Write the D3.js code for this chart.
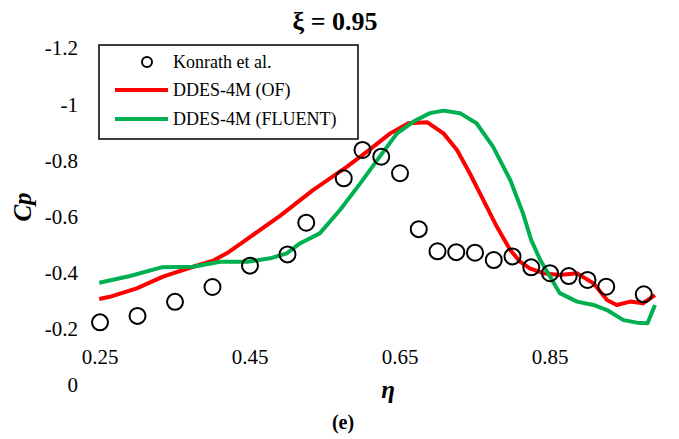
<!DOCTYPE html>
<html>
<head>
<meta charset="utf-8">
<script src="https://cdn.jsdelivr.net/npm/d3@7"></script>
<style>
  body { margin: 0; background: #fff; }
  svg { display: block; }
</style>
</head>
<body>
<svg id="viz" width="679" height="439"></svg>
<script>
// Konrath et al. experiment
const konrathEta = [0.25, 0.30, 0.35, 0.40, 0.45, 0.50, 0.525, 0.575, 0.60, 0.625, 0.65, 0.675,
  0.70, 0.725, 0.75, 0.775, 0.80, 0.825, 0.85, 0.875, 0.90, 0.925, 0.975];
const konrathCp = [-0.223, -0.246, -0.296, -0.349, -0.425, -0.465, -0.578, -0.736, -0.837, -0.813, -0.754, -0.555,
  -0.476, -0.473, -0.471, -0.445, -0.458, -0.419, -0.398, -0.388, -0.374, -0.350, -0.323];

// DDES-4M (OF)
const ofEta = [0.249, 0.263, 0.299, 0.334, 0.374, 0.401, 0.419, 0.441, 0.49, 0.534, 0.579, 0.606, 0.637, 0.661,
  0.686, 0.708, 0.726, 0.743, 0.761, 0.779, 0.797, 0.81, 0.823, 0.841, 0.863, 0.886, 0.908, 0.926, 0.939,
  0.957, 0.974, 0.99];
const ofCp = [-0.306, -0.314, -0.344, -0.386, -0.421, -0.443, -0.469, -0.510, -0.602, -0.694, -0.777, -0.831, -0.896, -0.932,
  -0.936, -0.896, -0.837, -0.754, -0.659, -0.564, -0.481, -0.439, -0.415, -0.398, -0.392, -0.398, -0.362, -0.303, -0.285,
  -0.297, -0.291, -0.320];

// DDES-4M (FLUENT)
const fluentEta = [0.249, 0.29, 0.332, 0.374, 0.41, 0.446, 0.477, 0.499, 0.517, 0.543, 0.57, 0.597, 0.623, 0.646,
  0.668, 0.69, 0.708, 0.73, 0.752, 0.774, 0.797, 0.814, 0.825, 0.837, 0.85, 0.863, 0.886, 0.908, 0.926, 0.948,
  0.966, 0.98, 0.99];
const fluentCp = [-0.364, -0.388, -0.419, -0.421, -0.439, -0.439, -0.451, -0.469, -0.505, -0.540, -0.623, -0.718, -0.813, -0.896,
  -0.938, -0.968, -0.977, -0.968, -0.932, -0.849, -0.730, -0.611, -0.516, -0.445, -0.386, -0.327, -0.297, -0.285, -0.267, -0.231,
  -0.222, -0.220, -0.285];

const yTicks = [-1.2, -1, -0.8, -0.6, -0.4, -0.2, 0];
const xTicks = [0.25, 0.45, 0.65, 0.85];

const FONT = "'Times New Roman', Times, 'Liberation Serif', Tinos, 'Noto Serif', 'DejaVu Serif', serif";

const svg = d3.select("#viz").attr("font-family", FONT);
const x = d3.scaleLinear().domain([0.25, 0.99]).range([100, 655]);
const y = d3.scaleLinear().domain([-1.2, 0]).range([48, 385]);

// plain hyphen for negatives, like the original
const fmtY = d => String(d);

// y tick labels
svg.append("g")
  .selectAll("text")
  .data(yTicks)
  .join("text")
  .attr("x", 78)
  .attr("y", d => y(d))
  .attr("dy", "0.35em")
  .attr("text-anchor", "end")
  .attr("font-family", FONT)
  .attr("font-size", 21)
  .text(fmtY);

// x tick labels (sit between -0.2 and 0 like the original)
svg.append("g")
  .selectAll("text")
  .data(xTicks)
  .join("text")
  .attr("x", d => x(d))
  .attr("y", y(-0.1))
  .attr("dy", "0.35em")
  .attr("text-anchor", "middle")
  .attr("font-family", FONT)
  .attr("font-size", 21)
  .text(d => d.toFixed(2));

const line = d3.line().x(d => x(d[0])).y(d => y(d[1]));

svg.append("path")
  .datum(d3.zip(ofEta, ofCp))
  .attr("fill", "none")
  .attr("stroke", "#ff0000")
  .attr("stroke-width", 4)
  .attr("stroke-linejoin", "round")
  .attr("d", line);

svg.append("path")
  .datum(d3.zip(fluentEta, fluentCp))
  .attr("fill", "none")
  .attr("stroke", "#00b050")
  .attr("stroke-width", 4)
  .attr("stroke-linejoin", "round")
  .attr("d", line);

svg.append("g")
  .selectAll("circle")
  .data(d3.zip(konrathEta, konrathCp))
  .join("circle")
  .attr("cx", d => x(d[0]))
  .attr("cy", d => y(d[1]))
  .attr("r", 8)
  .attr("fill", "none")
  .attr("stroke", "#000")
  .attr("stroke-width", 2);

// legend
const legend = svg.append("g");
legend.append("rect")
  .attr("x", 99).attr("y", 45)
  .attr("width", 259).attr("height", 94)
  .attr("fill", "#fff")
  .attr("stroke", "#000")
  .attr("stroke-width", 1.5);
legend.append("circle")
  .attr("cx", 147).attr("cy", 62).attr("r", 5)
  .attr("fill", "none").attr("stroke", "#000").attr("stroke-width", 2);
[["#ff0000", 90], ["#00b050", 119]].forEach(([c, ly]) => {
  legend.append("line")
    .attr("x1", 115).attr("x2", 168)
    .attr("y1", ly).attr("y2", ly)
    .attr("stroke", c).attr("stroke-width", 4);
});
[["Konrath et al.", 62], ["DDES-4M (OF)", 90], ["DDES-4M (FLUENT)", 119]].forEach(([t, ly]) => {
  legend.append("text")
    .attr("x", 173).attr("y", ly).attr("dy", "0.35em")
    .attr("font-family", FONT)
    .attr("font-size", 18)
    .text(t);
});

// titles
svg.append("text")
  .attr("x", 335).attr("y", 30)
  .attr("text-anchor", "middle")
  .attr("font-family", FONT)
  .attr("font-size", 26).attr("font-weight", "bold")
  .text("ξ = 0.95");

svg.append("text")
  .attr("transform", "translate(31,207) rotate(-90)")
  .attr("text-anchor", "middle")
  .attr("font-family", FONT)
  .attr("font-size", 25).attr("font-weight", "bold").attr("font-style", "italic")
  .text("Cp");

svg.append("text")
  .attr("x", 388).attr("y", 398)
  .attr("text-anchor", "middle")
  .attr("font-family", FONT)
  .attr("font-size", 25).attr("font-weight", "bold").attr("font-style", "italic")
  .text("η");

svg.append("text")
  .attr("x", 343).attr("y", 429)
  .attr("text-anchor", "middle")
  .attr("font-family", FONT)
  .attr("font-size", 20).attr("font-weight", "bold")
  .text("(e)");
</script>
</body>
</html>
